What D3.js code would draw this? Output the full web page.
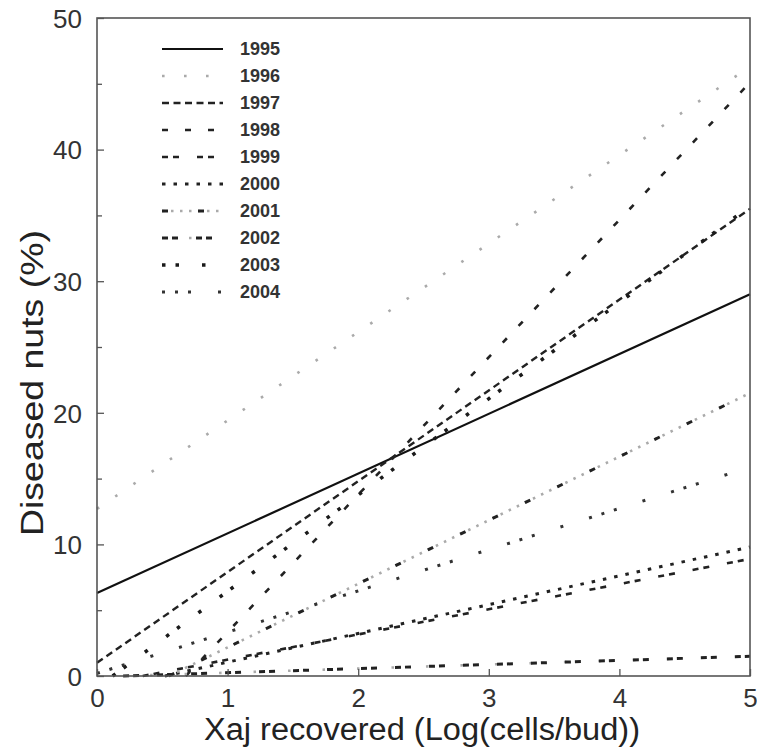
<!DOCTYPE html>
<html>
<head>
<meta charset="utf-8">
<script src="https://cdn.jsdelivr.net/npm/d3@7"></script>
<style>
  body { margin: 0; background: #fff; }
  svg { font-family: Arial, "Liberation Sans", sans-serif; }
</style>
</head>
<body>
<div class="chart"></div>
<script>
// fitted lines, one per year (start and end points)
var years  = ['1995','1996','1997','1998','1999','2000','2001','2002','2003','2004'];
var xStart = [0,    0,    0,    0.68, 0.35, 0.52, 0.55, 0.2,  0.12, 0];
var yStart = [6.3,  12.7, 1.0,  0,    0,    0,    0,    0,    0,    0.2];
var xEnd   = [5,    5,    5,    5,    5,    5,    5,    5,    5,    4.85];
var yEnd   = [29.0, 46.3, 35.5, 45.1, 8.9,  9.8,  21.5, 1.5,  35.7, 15.4];

var xTicks = [0, 1, 2, 3, 4, 5];
var yTicks = [0, 10, 20, 30, 40, 50];

var width = 757, height = 750;
var margin = {top: 18, right: 7, bottom: 74, left: 97};

// line looks: each year can have more than one stroke layer
var looks = {
  '1995': [{c: '#111', w: 2.2, d: null}],
  '1996': [{c: '#aaa', w: 2.6, d: '2.6,19.4'}],
  '1997': [{c: '#222', w: 2.4, d: '7,4.5'}],
  '1998': [{c: '#222', w: 2.6, d: '6,17'}],
  '1999': [{c: '#222', w: 2.6, d: '6,5,6,18'}],
  '2000': [{c: '#222', w: 3, d: '3.5,8'}],
  '2001': [{c: '#aaa', w: 2.6, d: '2.5,6.5'}, {c: '#222', w: 3, d: '6,30'}],
  '2002': [{c: '#aaa', w: 2.6, d: '0,27,2.5,5'}, {c: '#222', w: 3, d: '6,4,6,18'}],
  '2003': [{c: '#1a1a1a', w: 3.5, d: '3.5,10,3.5,23,3.5,23'}],
  '2004': [{c: '#333', w: 3, d: '3,10,3,10,3,27,3,27'}]
};

var rows = years.map(function(y, i){
  return {year: y, pts: [[xStart[i], yStart[i]], [xEnd[i], yEnd[i]]]};
});

var svg = d3.select('div.chart').append('svg')
  .attr('width', width)
  .attr('height', height);

var x = d3.scaleLinear().domain([0, 5]).range([margin.left, width - margin.right]);
var y = d3.scaleLinear().domain([0, 50]).range([height - margin.bottom, margin.top]);

var line = d3.line()
  .x(function(d){ return x(d[0]); })
  .y(function(d){ return y(d[1]); });

// lines
var g = svg.append('g').attr('class', 'lines');
rows.forEach(function(r){
  looks[r.year].forEach(function(l){
    g.append('path')
      .datum(r.pts)
      .attr('d', line)
      .attr('fill', 'none')
      .attr('stroke', l.c)
      .attr('stroke-width', l.w)
      .attr('stroke-dasharray', l.d);
  });
});

// frame
svg.append('rect')
  .attr('x', x(0)).attr('y', y(50))
  .attr('width', x(5) - x(0)).attr('height', y(0) - y(50))
  .attr('fill', 'none')
  .attr('stroke', '#555')
  .attr('stroke-width', 1.6);

// axes, ticks pointing inward
var fmt = d3.format('d');
var xAxis = d3.axisBottom(x).tickValues(xTicks).tickFormat(fmt).tickSizeInner(-7).tickSizeOuter(0).tickPadding(14);
var yAxis = d3.axisLeft(y).tickValues(yTicks).tickFormat(fmt).tickSizeInner(-7).tickSizeOuter(0).tickPadding(15);
var yMinor = d3.axisLeft(y).tickValues([5, 15, 25, 35, 45]).tickSizeInner(-5).tickSizeOuter(0).tickFormat('');

svg.append('g').attr('class', 'x-axis')
  .attr('transform', 'translate(0,' + y(0) + ')')
  .call(xAxis);
svg.append('g').attr('class', 'y-axis')
  .attr('transform', 'translate(' + x(0) + ',0)')
  .call(yAxis);
svg.append('g').attr('class', 'y-minor')
  .attr('transform', 'translate(' + x(0) + ',0)')
  .call(yMinor);

svg.selectAll('.x-axis path, .y-axis path, .y-minor path').remove();
svg.selectAll('.tick line').attr('stroke', '#555').attr('stroke-width', 1.3);
svg.selectAll('.x-axis text, .y-axis text')
  .style('font-size', '26px')
  .style('font-family', 'Arial, "Liberation Sans", sans-serif')
  .attr('fill', '#333');
svg.selectAll('.y-axis .tick text').attr('dy', '0.36em');
svg.selectAll('.x-axis .tick text').attr('dy', '0.66em');

// axis titles
svg.append('text')
  .attr('transform', 'rotate(-90)')
  .attr('x', -383)
  .attr('y', 43)
  .attr('textLength', 306)
  .attr('lengthAdjust', 'spacingAndGlyphs')
  .style('text-anchor', 'middle')
  .style('font-size', '31px')
  .attr('fill', '#222')
  .text('Diseased nuts (%)');
svg.append('text')
  .attr('x', 422)
  .attr('y', 740)
  .attr('textLength', 436)
  .attr('lengthAdjust', 'spacingAndGlyphs')
  .style('text-anchor', 'middle')
  .style('font-size', '31px')
  .attr('fill', '#222')
  .text('Xaj recovered (Log(cells/bud))');

// legend
var lg = svg.append('g').attr('class', 'legend');
years.forEach(function(yr, i){
  var ly = 49 + i * 27;
  looks[yr].forEach(function(l){
    lg.append('line')
      .attr('x1', 162).attr('x2', 223)
      .attr('y1', ly).attr('y2', ly)
      .attr('stroke', l.c)
      .attr('stroke-width', l.w)
      .attr('stroke-dasharray', l.d);
  });
  lg.append('text')
    .attr('x', 240)
    .attr('y', ly)
    .attr('dy', '0.36em')
    .style('font-size', '18px')
    .style('font-weight', 'bold')
    .attr('fill', '#333')
    .text(yr);
});
</script>
</body>
</html>
